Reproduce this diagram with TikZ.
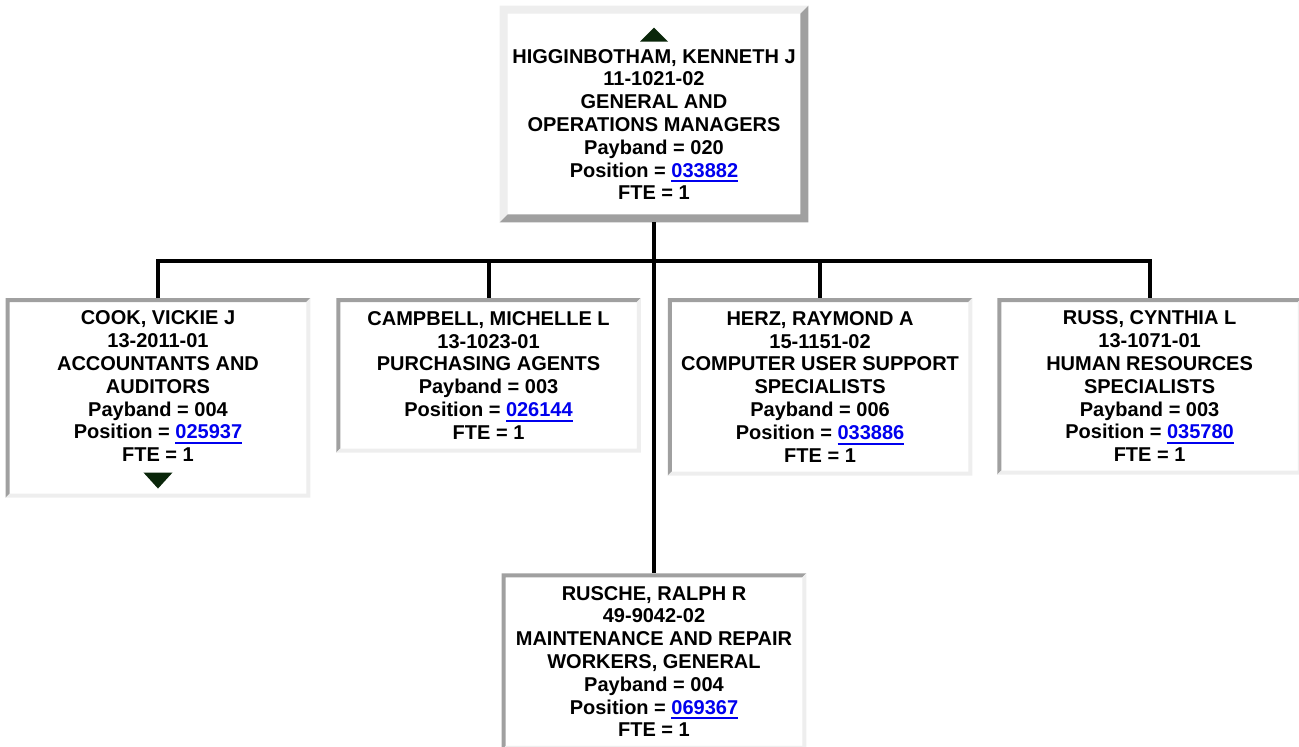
\documentclass[tikz,border=0pt]{standalone}
\usepackage{fontspec}
\setmainfont{Liberation Sans}
\usetikzlibrary{positioning}
\definecolor{framedark}{HTML}{A0A0A0}
\definecolor{framelight}{HTML}{EEEEEE}
\definecolor{linkblue}{HTML}{0000EE}
\definecolor{arrowgreen}{HTML}{0A260A}
% underlined position number
\newcommand\poslink[1]{\textcolor{linkblue}{\setbox0\hbox{#1}\rlap{\rule[-4pt]{\wd0}{1.5pt}}\box0}}
% two-tone frame: node, width, top-left colour, bottom-right colour
\newcommand\bevel[4]{%
  \fill[#3] (#1.south west) -- (#1.north west) -- (#1.north east)
    -- ([xshift=-#2,yshift=-#2]#1.north east) -- ([xshift=#2,yshift=-#2]#1.north west)
    -- ([xshift=#2,yshift=#2]#1.south west) -- cycle;
  \fill[#4] (#1.south west) -- (#1.south east) -- (#1.north east)
    -- ([xshift=-#2,yshift=-#2]#1.north east) -- ([xshift=-#2,yshift=#2]#1.south east)
    -- ([xshift=#2,yshift=#2]#1.south west) -- cycle;
}
\tikzset{
  person/.style={
    rectangle, fill=white, inner sep=0pt, align=center, text=black,
    font=\bfseries\fontsize{15pt}{17.1pt}\selectfont,
    minimum width=228pt
  },
  bossbox/.style={person, minimum width=231pt, minimum height=162pt},
  orgline/.style={line width=3pt, draw=black},
  updown/.style={fill=arrowgreen}
}

\begin{document}
\begin{tikzpicture}[x=0.75pt, y=-0.75pt]
\useasboundingbox (0,0) rectangle (1299,746);

% Manager
\node[bossbox] (boss) at (654,114)
  {\mbox{}\\[9pt]HIGGINBOTHAM, KENNETH J\\11-1021-02\\GENERAL AND\\OPERATIONS MANAGERS\\Payband = 020\\Position = \poslink{033882}\\FTE = 1};
\bevel{boss}{6pt}{framelight}{framedark}
\fill[updown] ([yshift=-16.5pt]boss.north) -- ++(-10.5pt,-10.5pt) -- ++(21pt,0pt) -- cycle;

% Direct reports
\node[person, minimum height=149.25pt, anchor=north] (cook) at (158,298)
  {COOK, VICKIE J\\13-2011-01\\ACCOUNTANTS AND\\AUDITORS\\Payband = 004\\Position = \poslink{025937}\\FTE = 1\\\mbox{}};
\node[person, minimum height=115.5pt, right=19.5pt of cook.north east, anchor=north west] (campbell)
  {CAMPBELL, MICHELLE L\\13-1023-01\\PURCHASING AGENTS\\Payband = 003\\Position = \poslink{026144}\\FTE = 1};
\node[person, minimum height=132.75pt, right=20.25pt of campbell.north east, anchor=north west] (herz)
  {HERZ, RAYMOND A\\15-1151-02\\COMPUTER USER SUPPORT\\SPECIALISTS\\Payband = 006\\Position = \poslink{033886}\\FTE = 1};
\node[person, minimum height=132pt, right=18.75pt of herz.north east, anchor=north west] (russ)
  {RUSS, CYNTHIA L\\13-1071-01\\HUMAN RESOURCES\\SPECIALISTS\\Payband = 003\\Position = \poslink{035780}\\FTE = 1};
\node[person, minimum height=132pt, below=263.25pt of boss] (rusche)
  {RUSCHE, RALPH R\\49-9042-02\\MAINTENANCE AND REPAIR\\WORKERS, GENERAL\\Payband = 004\\Position = \poslink{069367}\\FTE = 1};

\bevel{cook}{3pt}{framedark}{framelight}
\bevel{campbell}{3pt}{framedark}{framelight}
\bevel{herz}{3pt}{framedark}{framelight}
\bevel{russ}{3pt}{framedark}{framelight}
\bevel{rusche}{3pt}{framedark}{framelight}
\fill[updown] ([yshift=6.75pt]cook.south) -- ++(-10.9pt,12pt) -- ++(21.8pt,0pt) -- cycle;

% Connectors
\coordinate (bus) at (654,260.5);
\draw[orgline] (boss.south) -- (rusche.north);
\draw[orgline] (cook.north) |- (bus) -| (russ.north);
\draw[orgline] (campbell.north) -- (campbell.north |- bus);
\draw[orgline] (herz.north) -- (herz.north |- bus);

\end{tikzpicture}
\end{document}
